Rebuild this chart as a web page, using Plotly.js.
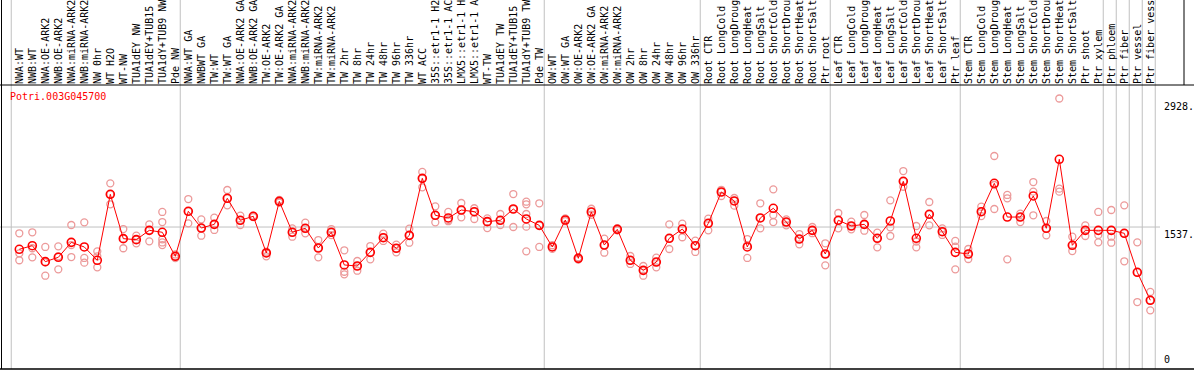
<!DOCTYPE html>
<html>
<head>
<meta charset="utf-8">
<script src="https://cdn.plot.ly/plotly-3.0.1.min.js"></script>
<style>html,body{margin:0;padding:0;background:#fff;}#chart{width:1194px;height:370px;}</style>
</head>
<body>
<div id="chart"></div>
<script>
const geneName = "Potri.003G045700";

const labels = [
"NWA:WT","NWB:WT","NWA:OE-ARK2","NWB:OE-ARK2","NWA:miRNA-ARK2","NWB:miRNA-ARK2","NW 0hr","WT H2O","WT-NW","TUA1dEY NW","TUA1dEY+TUB15","TUA1dY+TUB9 NW","Pde NW",
"NWA:WT GA","NWBWT GA","TW:WT","TW:WT GA","NWA:OE-ARK2 GA","NWB:OE-ARK2 GA","TW:OE-ARK2","TW:OE-ARK2 GA","NWA:miRNA-ARK2","NWB:miRNA-ARK2","TW:miRNA-ARK2","TW:miRNA-ARK2","TW 2hr","TW 8hr","TW 24hr","TW 48hr","TW 96hr","TW 336hr","WT ACC","35S::etr1-1 H2","35S::etr1-1 AC","LMX5::etr1-1 H","LMX5::etr1-1 A","WT-TW","TUA1dEY TW","TUA1dEY+TUB15","TUA1dY+TUB9 TW","Pde TW",
"OW:WT","OW:WT GA","OW:OE-ARK2","OW:OE-ARK2 GA","OW:miRNA-ARK2","OW:miRNA-ARK2","OW 2hr","OW 8hr","OW 24hr","OW 48hr","OW 96hr","OW 336hr",
"Root CTR","Root LongCold","Root LongDroug","Root LongHeat","Root LongSalt","Root ShortCold","Root ShortDrou","Root ShortHeat","Root ShortSalt","Ptr root",
"Leaf CTR","Leaf LongCold","Leaf LongDroug","Leaf LongHeat","Leaf LongSalt","Leaf ShortCold","Leaf ShortDrou","Leaf ShortHeat","Leaf ShortSalt","Ptr leaf",
"Stem CTR","Stem LongCold","Stem LongDroug","Stem LongHeat","Stem LongSalt","Stem ShortCold","Stem ShortDrou","Stem ShortHeat","Stem ShortSalt","Ptr shoot","Ptr xylem",
"Ptr phloem","Ptr fiber","Ptr vessel","Ptr fiber vess"
];

const means = [
1296,1335,1162,1209,1371,1321,1177,1891,1411,1400,1501,1480,1220,
1707,1526,1566,1848,1610,1653,1256,1815,1480,1523,1310,1480,1126,1115,1263,1421,1307,1447,2064,1664,1635,1721,1703,1595,1610,1732,1624,1555,
1321,1613,1198,1700,1342,1512,1177,1068,1158,1415,1515,1335,
1577,1916,1819,1321,1635,1740,1591,1407,1501,1245,
1610,1548,1566,1415,1602,2032,1415,1675,1486,1263,
1245,1703,2010,1645,1645,1873,1523,2270,1339,1501,1501,
1501,1469,1047,744
];

const replicates = [
[1469,1252,1177],[1480,1307,1209],[1321,1155,1010],[1328,1220,1079],[1559,1342,1212],[1588,1202,1151],[1274,1220,1101],[2010,1891,1783],[1515,1411,1307],[1443,1400,1361],[1566,1501,1382],[1700,1591,1404,1342,1370],[1240,1220,1200],
[1840,1707,1577],[1620,1526,1443],[1638,1566,1505],[1938,1848,1772],[1660,1610,1559],[1660,1653,1645],[1270,1256,1220],[1830,1815,1800],[1523,1480,1432],[1584,1523,1469],[1396,1310,1209],[1515,1480,1450],[1285,1053,1025],[1169,1115,1064],[1331,1263,1187],[1465,1421,1386],[1346,1307,1263],[1519,1447,1367],[2133,2064,1967],[1761,1664,1588],[1700,1613,1600],[1797,1721,1642],[1740,1703,1624],[1631,1595,1526],[1678,1610,1559],[1894,1732,1537],[1811,1783,1678,1541,1274],[1794,1555,1321],
[1340,1321,1300],[1630,1613,1600],[1210,1198,1185],[1735,1700,1670],[1411,1342,1259],[1525,1512,1500],[1223,1177,1137],[1115,1068,1010],[1205,1158,1101],[1566,1415,1299],[1573,1515,1426],[1389,1335,1267],
[1627,1577,1501],[1940,1916,1873],[1851,1819,1768],[1407,1340,1202],[1794,1635,1523],[1945,1667,1591],[1620,1591,1555],[1461,1407,1350],[1537,1501,1470],[1361,1245,1122],
[1689,1610,1523],[1595,1548,1512],[1667,1566,1497],[1476,1415,1317],[1826,1534,1440],[2143,2032,1973],[1548,1380,1317],[1808,1675,1555],[1523,1486,1451],[1386,1324,1079],
[1299,1245,1191],[1757,1703,1656],[2306,1992,1732],[1884,1848,1187],[1681,1645,1591],[2024,1920,1664],[1602,1523,1447],[2928,1952,1920],[1432,1339,1277],[1555,1501,1440],[1700,1451,1371],
[1721,1432,1367],[1772,1469,1166],[1371,1047,725],[834,744,635]
];

// last category index of each group (0 = leading separator)
const groupEnds = [0,13,41,53,63,73,84,85,86,87,88];

const yTickVals = [2928, 1537, 0];
const yTickText = ["2928.", "1537.", "0"];

const xs = labels.map((_, i) => i + 1);
const repX = [], repY = [];
replicates.forEach((arr, i) => arr.forEach(v => { repX.push(i + 1); repY.push(v); }));

const yMaxData = Math.max(...repY, ...means);
const yTop = yMaxData * 1.05;

const W = 1194, H = 370, mT = 85, mB = 1;
const plotH = H - mT - mB;
const pxPerCat = 13;
const xStart = 1 - 19.3 / pxPerCat;
const xEnd = xStart + W / pxPerCat;

const mono = "DejaVu Sans Mono, Liberation Mono, monospace";
const gray = "#c0c0c0";

const shapes = [];
groupEnds.forEach(g => {
  shapes.push({type:"line", xref:"x", yref:"paper", x0:g + 0.38, x1:g + 0.38, y0:0, y1:1 + mT / plotH,
    line:{color:gray, width:1}, layer:"below"});
});
// horizontal midline
shapes.push({type:"line", xref:"paper", yref:"y", x0:0, x1:1160 / W, y0:yTickVals[1], y1:yTickVals[1],
  line:{color:gray, width:1}, layer:"below"});
// frame lines
shapes.push({type:"line", xref:"paper", yref:"paper", x0:0, x1:1, y0:1, y1:1, line:{color:"#000", width:1}});
shapes.push({type:"line", xref:"paper", yref:"paper", x0:0, x1:1, y0:0, y1:0, line:{color:"#000", width:1.5}});
shapes.push({type:"line", xref:"paper", yref:"paper", x0:1.5 / W, x1:1.5 / W, y0:0, y1:1 + mT / plotH, line:{color:"#000", width:1}});
shapes.push({type:"line", xref:"paper", yref:"paper", x0:1184 / W, x1:1184 / W, y0:1, y1:1 + mT / plotH, line:{color:"#000", width:1}});

const annotations = [
  {text:geneName, xref:"paper", yref:"paper", x:8 / W, y:1 - 4 / plotH, xanchor:"left", yanchor:"top",
   showarrow:false, font:{family:mono, size:10, color:"#ff0000"}},
  {text:yTickText[0], xref:"paper", yref:"y", x:1162 / W, y:yTickVals[0], xanchor:"left", yanchor:"top",
   showarrow:false, font:{family:mono, size:10, color:"#000"}},
  {text:yTickText[1], xref:"paper", yref:"y", x:1162 / W, y:yTickVals[1], xanchor:"left", yanchor:"top",
   showarrow:false, font:{family:mono, size:10, color:"#000"}},
  {text:yTickText[2], xref:"paper", yref:"y", x:1162 / W, y:yTickVals[2], xanchor:"left", yanchor:"bottom", yshift:2,
   showarrow:false, font:{family:mono, size:10, color:"#000"}}
];

const traces = [
  {x:repX, y:repY, type:"scatter", mode:"markers", hoverinfo:"skip",
   marker:{symbol:"circle-open", size:7, color:"#ec9a9a", line:{color:"#ec9a9a", width:1.3}}},
  {x:xs, y:means, type:"scatter", mode:"lines+markers", hoverinfo:"skip",
   line:{color:"#ff0000", width:1},
   marker:{symbol:"circle-open", size:8, color:"#ff0000", line:{color:"#ff0000", width:1.6}}}
];

const layout = {
  width:W, height:H, showlegend:false,
  margin:{l:0, r:0, t:mT, b:mB, pad:0},
  paper_bgcolor:"#fff", plot_bgcolor:"#fff",
  xaxis:{range:[xStart, xEnd], tickmode:"array", tickvals:xs, ticktext:labels, side:"top", tickangle:-90,
    ticks:"", showgrid:false, zeroline:false, showline:false, automargin:false,
    tickfont:{family:mono, size:10, color:"#000"}, fixedrange:true},
  yaxis:{range:[0, yTop], showgrid:false, zeroline:false, showline:false, showticklabels:false, ticks:"",
    automargin:false, fixedrange:true},
  shapes:shapes, annotations:annotations
};

Plotly.newPlot("chart", traces, layout, {staticPlot:true, displayModeBar:false});
</script>
</body>
</html>
